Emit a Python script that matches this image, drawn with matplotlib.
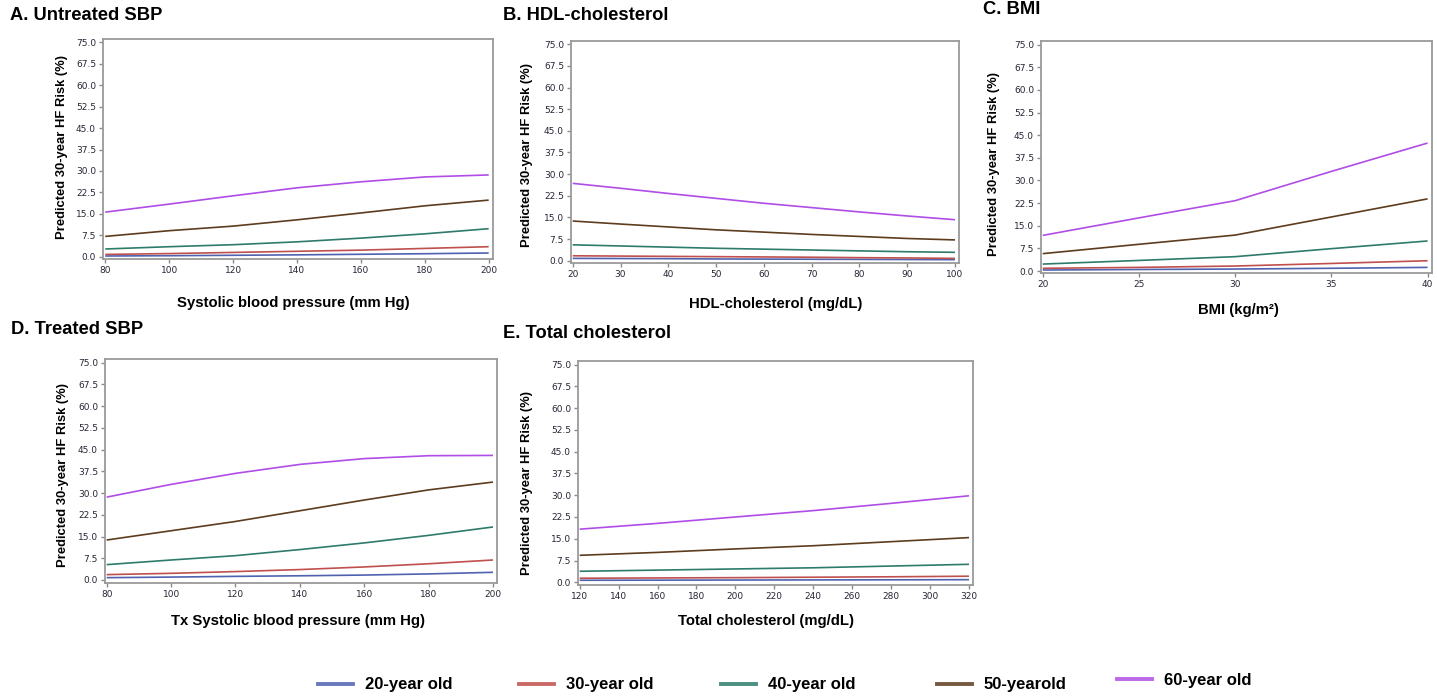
import matplotlib
matplotlib.use('Agg')
import matplotlib.pyplot as plt
from matplotlib.lines import Line2D

W, H = 1437, 696

# age groups / legend
ages = ['20-year old', '30-year old', '40-year old', '50-yearold', '60-year old']
colors = ['#4f62b0', '#c0504d', '#2e7b6b', '#5e3c1e', '#b04de6']

# A. untreated SBP
A_x = [80, 100, 120, 140, 160, 180, 200]
A_20 = [0.25, 0.35, 0.5, 0.65, 0.85, 1.05, 1.3]
A_30 = [0.8, 1.1, 1.5, 1.9, 2.3, 2.9, 3.5]
A_40 = [2.7, 3.5, 4.2, 5.2, 6.5, 8.0, 9.8]
A_50 = [7.1, 9.1, 10.7, 12.9, 15.3, 17.8, 19.8]
A_60 = [15.6, 18.4, 21.3, 24.1, 26.2, 27.9, 28.6]

# B. HDL-cholesterol
B_x = [20, 30, 40, 50, 60, 70, 80, 90, 100]
B_20 = [0.8, 0.75, 0.7, 0.6, 0.55, 0.5, 0.45, 0.4, 0.35]
B_30 = [1.7, 1.6, 1.5, 1.4, 1.3, 1.2, 1.05, 0.95, 0.8]
B_40 = [5.5, 5.1, 4.7, 4.3, 4.0, 3.7, 3.4, 3.1, 2.9]
B_50 = [13.75, 12.7, 11.7, 10.7, 9.9, 9.1, 8.4, 7.7, 7.2]
B_60 = [26.8, 25.1, 23.3, 21.6, 19.9, 18.4, 16.9, 15.5, 14.2]

# C. BMI
C_x = [20, 25, 30, 35, 40]
C_20 = [0.33, 0.5, 0.65, 0.9, 1.2]
C_30 = [0.9, 1.2, 1.65, 2.5, 3.4]
C_40 = [2.3, 3.5, 4.75, 7.4, 9.95]
C_50 = [5.75, 8.85, 11.9, 17.9, 23.9]
C_60 = [11.8, 17.6, 23.3, 33.0, 42.4]

# D. treated SBP
D_x = [80, 100, 120, 140, 160, 180, 200]
D_20 = [0.8, 1.0, 1.25, 1.45, 1.7, 2.1, 2.65]
D_30 = [1.85, 2.3, 2.9, 3.6, 4.5, 5.6, 6.9]
D_40 = [5.3, 6.9, 8.4, 10.5, 12.8, 15.4, 18.3]
D_50 = [13.8, 17.0, 20.2, 23.9, 27.6, 31.1, 33.8]
D_60 = [28.6, 33.0, 36.8, 39.9, 41.9, 42.9, 43.0]

# E. total cholesterol
E_x = [120, 160, 200, 240, 280, 320]
E_20 = [0.7, 0.74, 0.78, 0.82, 0.86, 0.9]
E_30 = [1.4, 1.5, 1.6, 1.75, 1.9, 2.1]
E_40 = [3.8, 4.2, 4.6, 5.0, 5.6, 6.2]
E_50 = [9.3, 10.3, 11.5, 12.6, 14.0, 15.4]
E_60 = [18.3, 20.3, 22.5, 24.7, 27.2, 29.8]

y_ticks = [0, 7.5, 15, 22.5, 30, 37.5, 45, 52.5, 60, 67.5, 75]
ylab = 'Predicted 30-year HF Risk (%)'

# frame in pixels (left, top, right, bottom), limits, label positions
panels = [
    dict(title='A. Untreated SBP', x=A_x, ys=[A_20, A_30, A_40, A_50, A_60],
         xticks=[80, 100, 120, 140, 160, 180, 200], xlabel='Systolic blood pressure (mm Hg)',
         frame=(103, 39, 493, 259), xlim=(79.3, 201.35), ylim=(-0.8, 76.15),
         tpos=(10, 16), xlpos=(293, 303), ylpos=(62, 147)),
    dict(title='B. HDL-cholesterol', x=B_x, ys=[B_20, B_30, B_40, B_50, B_60],
         xticks=[20, 30, 40, 50, 60, 70, 80, 90, 100], xlabel='HDL-cholesterol (mg/dL)',
         frame=(571, 41, 959, 263), xlim=(19.64, 100.84), ylim=(-0.8, 76.14),
         tpos=(503, 16), xlpos=(776, 304), ylpos=(527, 155)),
    dict(title='C. BMI', x=C_x, ys=[C_20, C_30, C_40, C_50, C_60],
         xticks=[20, 25, 30, 35, 40], xlabel='BMI (kg/m²)',
         frame=(1041, 41, 1432, 273), xlim=(19.91, 40.23), ylim=(-0.66, 76.2),
         tpos=(983, 9), xlpos=(1238, 310), ylpos=(994, 164)),
    dict(title='D. Treated SBP', x=D_x, ys=[D_20, D_30, D_40, D_50, D_60],
         xticks=[80, 100, 120, 140, 160, 180, 200], xlabel='Tx Systolic blood pressure (mm Hg)',
         frame=(105, 359, 497, 583), xlim=(79.47, 201.24), ylim=(-1.04, 76.28),
         tpos=(11, 330), xlpos=(298, 621), ylpos=(63, 475)),
    dict(title='E. Total cholesterol', x=E_x, ys=[E_20, E_30, E_40, E_50, E_60],
         xticks=[120, 140, 160, 180, 200, 220, 240, 260, 280, 300, 320], xlabel='Total cholesterol (mg/dL)',
         frame=(578, 361, 973, 585), xlim=(119.13, 322.05), ylim=(-0.93, 76.24),
         tpos=(503, 334), xlpos=(766, 621), ylpos=(527, 483)),
]

bold = ['Liberation Sans', 'DejaVu Sans']
fig = plt.figure(figsize=(W / 100, H / 100), dpi=100)

for p in panels:
    l, t, r, b = p['frame']
    ax = fig.add_axes([l / W, 1 - b / H, (r - l) / W, (b - t) / H])
    for y, c in zip(p['ys'], colors):
        ax.plot(p['x'], y, color=c, lw=1.2, solid_capstyle='butt')
    ax.set_xlim(*p['xlim'])
    ax.set_ylim(*p['ylim'])
    ax.set_xticks(p['xticks'])
    ax.set_yticks(y_ticks)
    ax.set_yticklabels(['%.1f' % v for v in y_ticks])
    ax.tick_params(direction='out', length=3, width=1, color='#8a8a8a',
                   labelsize=6.5, labelcolor='#262636', pad=2)
    for s in ax.spines.values():
        s.set_color('#9a9a9a')
        s.set_linewidth(1.3)
    fig.text(p['tpos'][0] / W, 1 - p['tpos'][1] / H, p['title'], family=bold,
             fontweight='bold', fontsize=13.2, ha='left', va='center')
    fig.text(p['xlpos'][0] / W, 1 - p['xlpos'][1] / H, p['xlabel'], family=bold,
             fontweight='bold', fontsize=10.7, ha='center', va='center')
    fig.text(p['ylpos'][0] / W, 1 - p['ylpos'][1] / H, ylab, family=bold,
             fontweight='bold', fontsize=9.4, ha='center', va='center', rotation=90)

# legend entries placed one by one (spacing is uneven in the original)
leg_pos = [(318, 685), (519, 685), (721, 685), (937, 685), (1117, 680)]
for name, c, (lx, ly) in zip(ages, colors, leg_pos):
    h = Line2D([], [], color=c, lw=2.8, alpha=0.85)
    fig.legend(handles=[h], labels=[name], loc='center left',
               bbox_to_anchor=(lx / W, 1 - ly / H), frameon=False,
               borderpad=0, borderaxespad=0, handlelength=2.1, handletextpad=0.72,
               prop=dict(family=bold, weight='bold', size=12))

fig.savefig('out.png', dpi=100)
